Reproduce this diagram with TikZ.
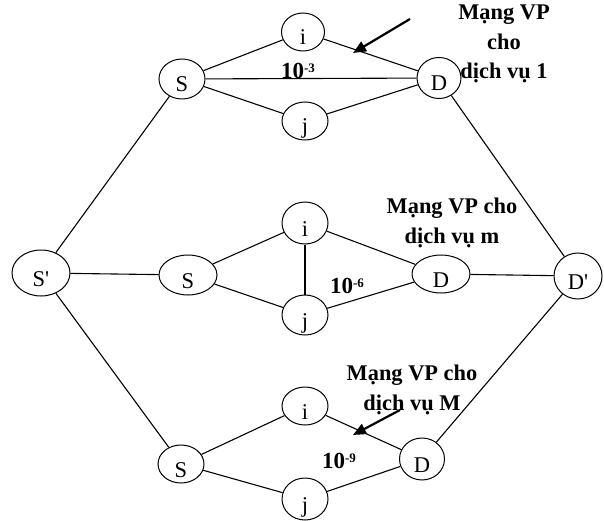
\documentclass[tikz,border=0pt]{standalone}
\usepackage{fontspec}
\setmainfont{Liberation Serif}
% plain family: keeps the straight apostrophe in S' and D'
\newfontfamily\netfont{Liberation Serif}
\usetikzlibrary{shapes.geometric,arrows.meta}

% loss ratio written as 10 with a small raised exponent
\newcommand{\lossratio}[1]{10\raisebox{6.5pt}{\fontsize{13}{13}\selectfont #1}}

\begin{document}
\begin{tikzpicture}[x=1pt,y=-1pt,
  vnode/.style={draw,ellipse,inner sep=0pt,line width=1pt,
    font=\netfont\fontsize{22.5}{22.5}\selectfont,text height=26pt,text depth=0pt},
  link/.style={line width=1.1pt},
  pointer/.style={line width=2.2pt,-{Triangle[length=13pt,width=11pt]}},
  note/.style={font=\netfont\bfseries\fontsize{22.4}{29.5}\selectfont,
    align=center,inner sep=0pt,anchor=north},
  rate/.style={font=\netfont\bfseries\fontsize{23}{23}\selectfont,inner sep=0pt}]

\useasboundingbox (0,0) rectangle (604,521);

% end points
\node[vnode,minimum width=58pt,minimum height=46pt] (Sp) at (41,273) {S'};
\node[vnode,minimum width=48pt,minimum height=46pt] (Dp) at (578,276) {D'};

% VP network for service 1
\node[vnode,minimum width=46pt,minimum height=40pt] (S1) at (182,79) {S};
\node[vnode,minimum width=43pt,minimum height=38pt] (i1) at (303,32) {i};
\node[vnode,minimum width=46pt,minimum height=38pt] (j1) at (305,121) {j};
\node[vnode,minimum width=44pt,minimum height=41pt] (D1) at (439,78) {D};

% VP network for service m
\node[vnode,minimum width=58pt,minimum height=40pt] (S2) at (188,275) {S};
\node[vnode,minimum width=46pt,minimum height=42pt] (i2) at (305,223) {i};
\node[vnode,minimum width=46pt,minimum height=40pt] (j2) at (305,315) {j};
\node[vnode,minimum width=58pt,minimum height=38pt] (D2) at (441,274) {D};

% VP network for service M
\node[vnode,minimum width=46pt,minimum height=38pt] (S3) at (181,464) {S};
\node[vnode,minimum width=46pt,minimum height=38pt] (i3) at (305,406) {i};
\node[vnode,minimum width=46pt,minimum height=42pt] (j3) at (305,499) {j};
\node[vnode,minimum width=45pt,minimum height=42pt] (D3) at (422,459) {D};

% links
\draw[link] (Sp) -- (S1);
\draw[link] (Sp) -- (S2);
\draw[link] (Sp) -- (S3);
\draw[link] (D1) -- (Dp);
\draw[link] (D2) -- (Dp);
\draw[link] (D3) -- (Dp);

\draw[link] (S1) -- (i1);
\draw[link] (S1) -- (j1);
\draw[link] (S1) -- (D1);
\draw[link] (i1) -- (D1);
\draw[link] (j1) -- (D1);

\draw[link] (S2) -- (i2);
\draw[link] (S2) -- (j2);
\draw[link] (i2) -- (j2);
\draw[link] (i2) -- (D2);
\draw[link] (j2) -- (D2);

\draw[link] (S3) -- (i3);
\draw[link] (S3) -- (j3);
\draw[link] (i3) -- (D3);
\draw[link] (j3) -- (D3);

% cell loss ratios
\node[rate] (r1) at (298,71) {\lossratio{-3}};
\node[rate] (r2) at (347,286) {\lossratio{-6}};
\node[rate] (r3) at (339,461) {\lossratio{-9}};

% captions
\node[note] (n1) at (504,5) {Mạng VP\\cho\\dịch vụ 1};
\node[note] (n2) at (452,198) {Mạng VP cho\\dịch vụ m};
\node[note] (n3) at (412,365) {Mạng VP cho\\dịch vụ M};

% pointers
\coordinate (p1s) at (410,19);
\coordinate (p1e) at (353,53);
\coordinate (p3s) at (400,410);
\coordinate (p3e) at (353,435);
\draw[pointer] (p1s) -- (p1e);
\draw[pointer] (p3s) -- (p3e);

\end{tikzpicture}
\end{document}
